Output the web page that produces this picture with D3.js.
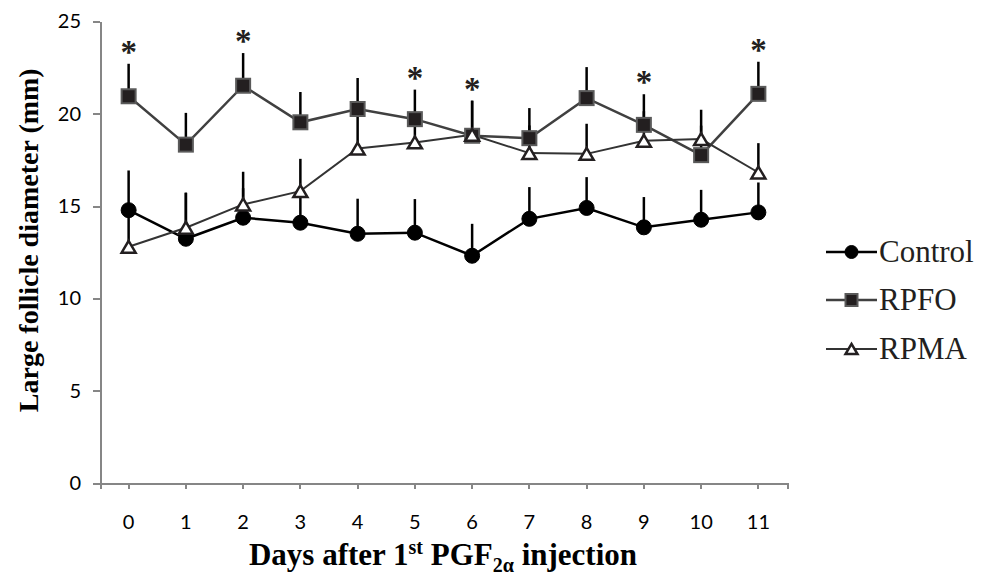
<!DOCTYPE html>
<html>
<head>
  <script src="https://d3js.org/d3.v7.min.js"></script>
  <style>
    body { margin: 0; background: #fff; }
    .axis path, .axis line { stroke: #868686; stroke-width: 2; shape-rendering: crispEdges; }
    .axis text { font-family: Lato, "Open Sans", sans-serif; font-size: 20px; fill: #000; }
    .title { font-family: "Liberation Serif", "Times New Roman", serif; font-weight: bold; fill: #000; }
  </style>
</head>
<body>
  <div id="chart"></div>
  <script>
    const days = ["0","1","2","3","4","5","6","7","8","9","10","11"];
    const yTicks = [0, 5, 10, 15, 20, 25];

    const controlMean = [14.78, 13.23, 14.37, 14.10, 13.50, 13.56, 12.31, 14.31, 14.90, 13.85, 14.26, 14.66];
    const controlErr  = [2.15, 2.49, 1.60, 1.70, 1.90, 1.82, 1.73, 1.72, 1.67, 1.64, 1.62, 1.62];
    const rpfoMean = [20.95, 18.33, 21.52, 19.54, 20.26, 19.71, 18.81, 18.68, 20.85, 19.40, 17.76, 21.08];
    const rpfoErr  = [1.76, 1.72, 1.77, 1.64, 1.68, 1.60, 1.90, 1.63, 1.68, 1.66, 1.60, 1.74];
    const rpmaMean = [12.80, 13.83, 15.09, 15.81, 18.12, 18.45, 18.86, 17.87, 17.83, 18.54, 18.63, 16.82];
    const rpmaErr  = [2.00, 1.90, 1.77, 1.75, 2.00, 1.50, 1.85, 1.50, 1.63, 1.60, 1.59, 1.59];
    const starDays = ["0", "2", "5", "6", "9", "11"];

    const series = [
      {name: "Control", mean: controlMean, err: controlErr, shape: "circle", line: "#000", lw: 2.5},
      {name: "RPFO", mean: rpfoMean, err: rpfoErr, shape: "square", line: "#404040", lw: 2.5},
      {name: "RPMA", mean: rpmaMean, err: rpmaErr, shape: "triangle", line: "#333", lw: 2}
    ];

    const W = 986, H = 575;
    const plot = {left: 100, right: 787, top: 21.5, bottom: 483};
    const serif = "'Liberation Serif', 'Times New Roman', serif";

    const svg = d3.select("#chart").append("svg")
      .attr("width", W).attr("height", H);

    const x = d3.scaleBand().domain(days).range([plot.left, plot.right]);
    const cx = d => x(d) + x.bandwidth() / 2;
    const y = d3.scaleLinear().domain([0, 25]).range([plot.bottom, plot.top]);

    // axes
    svg.append("g")
      .attr("class", "axis")
      .attr("transform", `translate(0,${plot.bottom})`)
      .call(d3.axisBottom(x).tickSize(6).tickSizeOuter(6).tickPadding(26));

    svg.append("g")
      .attr("class", "axis")
      .attr("transform", `translate(${plot.left},0)`)
      .call(d3.axisLeft(y).tickValues(yTicks).tickSize(7).tickSizeOuter(0).tickPadding(12));

    // axis titles
    svg.append("text")
      .attr("class", "title")
      .attr("transform", `translate(38,${(plot.top + plot.bottom) / 2 - 12}) rotate(-90)`)
      .attr("text-anchor", "middle")
      .attr("font-size", 28)
      .text("Large follicle diameter (mm)");

    const xt = svg.append("text")
      .attr("class", "title")
      .attr("x", 443).attr("y", 565)
      .attr("text-anchor", "middle")
      .attr("font-size", 31);
    xt.append("tspan").text("Days after 1");
    xt.append("tspan").attr("font-size", 20).attr("dy", -11).text("st");
    xt.append("tspan").attr("dy", 11).text(" PGF");
    xt.append("tspan").attr("font-size", 20).attr("dy", 7).text("2\u03b1");
    xt.append("tspan").attr("dy", -7).text(" injection");

    const line = d3.line().x((v, i) => cx(days[i])).y(v => y(v));

    // lines
    series.forEach(s => {
      svg.append("path")
        .attr("d", line(s.mean))
        .attr("fill", "none")
        .attr("stroke", s.line)
        .attr("stroke-width", s.lw);
    });

    // error bars (upper only)
    series.forEach(s => {
      svg.append("g").selectAll("line")
        .data(days)
        .join("line")
          .attr("x1", d => cx(d)).attr("x2", d => cx(d))
          .attr("y1", (d, i) => y(s.mean[i]))
          .attr("y2", (d, i) => y(s.mean[i] + s.err[i]))
          .attr("stroke", "#000")
          .attr("stroke-width", 2.5);
    });

    function marker(g, shape, px, py, size) {
      if (shape === "circle") {
        g.append("circle").attr("cx", px).attr("cy", py).attr("r", size / 2)
          .attr("fill", "#000").attr("stroke", "#000").attr("stroke-width", 1);
      } else if (shape === "square") {
        g.append("rect").attr("x", px - size / 2).attr("y", py - size / 2)
          .attr("width", size).attr("height", size)
          .attr("fill", "#231f20").attr("stroke", "#5a5a5a").attr("stroke-width", 2);
      } else {
        const h = size * 0.85;
        g.append("path")
          .attr("d", `M${px},${py - h / 2}L${px + size / 2},${py + h / 2}L${px - size / 2},${py + h / 2}Z`)
          .attr("fill", "#fff").attr("stroke", "#231f20").attr("stroke-width", 2.5)
          .attr("stroke-linejoin", "miter");
      }
    }

    // markers
    series.forEach(s => {
      const g = svg.append("g");
      days.forEach((d, i) => marker(g, s.shape, cx(d), y(s.mean[i]), s.shape === "circle" ? 15 : 14));
    });

    // significance stars above RPFO error bars
    svg.append("g").selectAll("text")
      .data(starDays)
      .join("text")
        .attr("x", d => cx(d))
        .attr("y", d => { const i = days.indexOf(d); return y(rpfoMean[i] + rpfoErr[i]) - 1; })
        .attr("text-anchor", "middle")
        .attr("font-family", serif)
        .attr("font-weight", "bold")
        .attr("font-size", 33)
        .attr("fill", "#231f20")
        .text("*");

    // legend
    const legend = svg.append("g");
    const legY = [252, 300, 349];
    series.forEach((s, i) => {
      legend.append("line")
        .attr("x1", 826).attr("x2", 877)
        .attr("y1", legY[i]).attr("y2", legY[i])
        .attr("stroke", s.line).attr("stroke-width", s.lw);
      marker(legend, s.shape, 851.5, legY[i], s.shape === "circle" ? 13 : 12);
      legend.append("text")
        .attr("x", 879).attr("y", legY[i] + 10)
        .attr("font-family", serif)
        .attr("font-size", 31)
        .attr("fill", "#231f20")
        .text(s.name);
    });
  </script>
</body>
</html>
